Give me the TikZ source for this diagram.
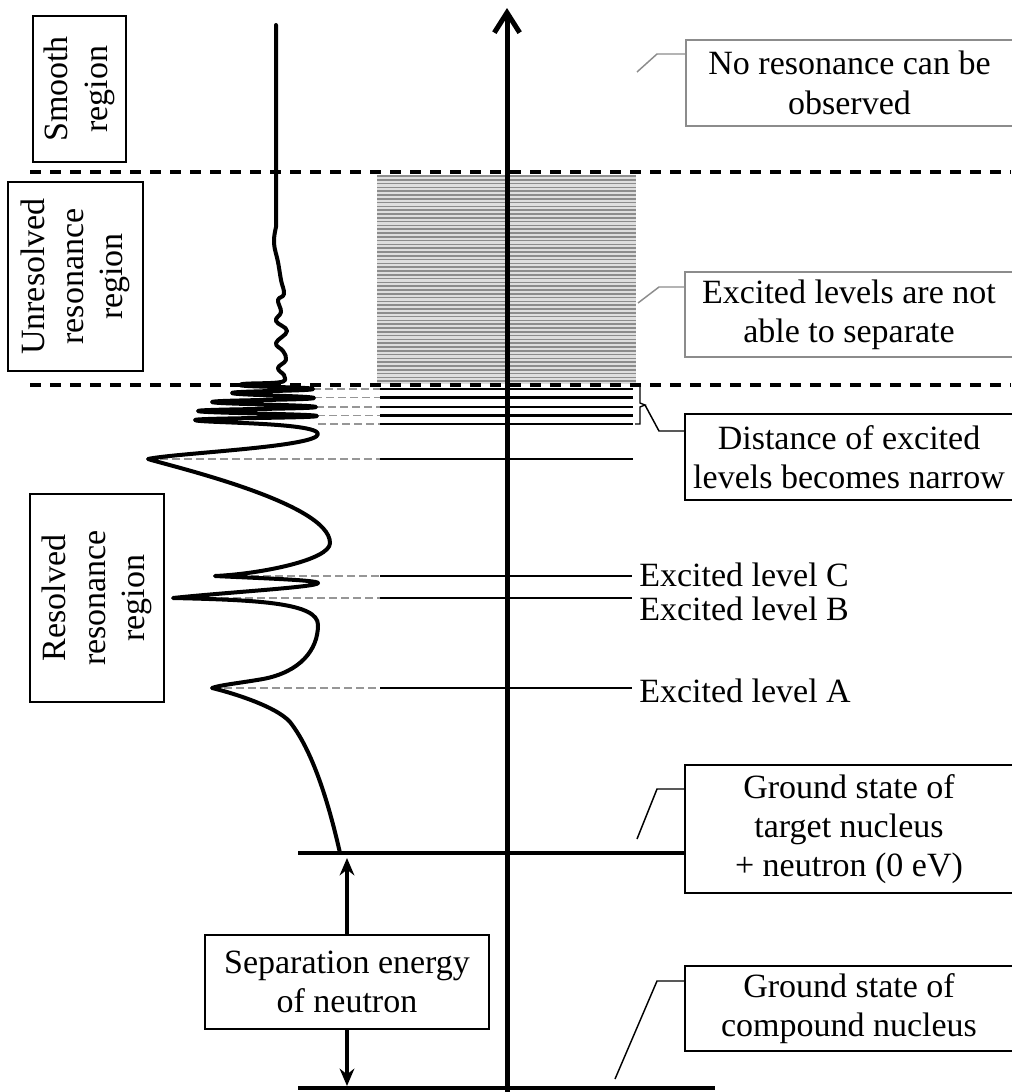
\documentclass[tikz,border=0pt]{standalone}
\usepackage{fontspec}
\setmainfont{Liberation Serif}
\usetikzlibrary{arrows.meta}
\definecolor{boxgray}{RGB}{140,140,140}
\definecolor{tiegray}{RGB}{150,150,150}
\definecolor{hatchline}{RGB}{140,140,140}
\definecolor{hatchfill}{RGB}{222,222,222}
\begin{document}
\begin{tikzpicture}[x=0.75pt,y=-0.75pt,
  txt/.style={font=\fontsize{25.5}{29.5}\selectfont, align=center, inner sep=0pt},
  framed/.style={txt, draw, line width=1.1pt, fill=white},
  softframed/.style={framed, draw=boxgray},
  regionbox/.style={framed, rotate=90},
  axisline/.style={line width=3.75pt},
  groundline/.style={line width=3.4pt},
  levelline/.style={line width=1.9pt},
  tieline/.style={tiegray, line width=1pt, dash pattern=on 6pt off 3pt},
  borderline/.style={line width=2.5pt, dash pattern=on 8.25pt off 6.75pt},
  curveline/.style={line width=3pt, line join=round, line cap=round},
  leader/.style={line width=1.1pt},
]
\useasboundingbox (0,0) rectangle (1011,1092);

% band of unresolved levels
\fill[hatchfill] (377,175) rectangle (636,384);
\foreach \k in {0,...,54}
  \draw[hatchline, line width=1.1pt] (377,176+3.8*\k) -- (636,176+3.8*\k);

% dashed ties from the cross-section peaks to the levels
\foreach \x/\y in {313/389, 314/397.7, 316/407, 317/415.7, 318/424, 148/459, 215/576, 173/598, 212/688}
  \draw[tieline] (\x,\y) -- (380,\y);

% discrete levels
\foreach \y in {389,397.7,407,415.7,424,459}
  \draw[levelline] (380,\y) -- (633,\y);

% region borders
\draw[borderline] (30,172) -- (1011,172);
\draw[borderline] (30,385) -- (1011,385);

% energy axis
\draw[axisline, -{Straight Barb[length=15pt, width=19pt]}] (507,1092) -- (507,8);

% cross-section curve
\draw[curveline] (276,25) -- (276,227)
  -- plot[smooth, tension=0.7] coordinates {(276,227) (274,243) (278,262) (281,280) (284,294) (278,300) (281,312) (276,321) (287,331) (276,343) (283,351) (286,360) (278,368) (284,375) (285,380)}
  .. controls (285,385) and (240,382) .. (240,385)
  .. controls +(0,2) and +(0,-2) .. (313,389)
  .. controls +(0,2) and +(0,-2) .. (232,393)
  .. controls +(0,2) and +(0,-2) .. (314,398)
  .. controls +(0,2) and +(0,-2) .. (212,402)
  .. controls +(0,2) and +(0,-2) .. (316,407)
  .. controls +(0,2) and +(0,-2) .. (198,411)
  .. controls +(0,2) and +(0,-2) .. (317,416)
  .. controls +(0,2) and +(0,-2) .. (195,420)
  .. controls (195,423) and (318,422) .. (318,434)
  .. controls (318,447) and (175,453) .. (148,459)
  .. controls (170,466) and (330,503) .. (330,543)
  .. controls (330,560) and (260,574) .. (215,576)
  .. controls (255,578) and (318,580) .. (318,583)
  .. controls (318,587) and (230,592) .. (173,598)
  .. controls (260,600) and (318,603) .. (318,625)
  .. controls (318,650) and (300,672) .. (263,679)
  .. controls (240,683) and (220,685) .. (212,688)
  .. controls (225,691) and (275,705) .. (290,722)
  .. controls (312,750) and (328,800) .. (340,853);

% labelled excited levels
\node[txt, anchor=west] (lvC) at (639,575) {Excited level C};
\node[txt, anchor=west] (lvB) at (639,609) {Excited level B};
\node[txt, anchor=west] (lvA) at (639,691) {Excited level A};
\coordinate (lC) at (380,576);
\coordinate (lB) at (380,598);
\coordinate (lA) at (380,688);
\draw[levelline] (lC) -- (632,576);
\draw[levelline] (lB) -- (632,598);
\draw[levelline] (lA) -- (632,688);

% region boxes
\node[regionbox, minimum width=109.5pt, minimum height=69.75pt] (smooth) at (79.5,89) {Smooth\\region};
\node[regionbox, minimum width=141.75pt, minimum height=101.25pt] (unres) at (75.5,276.5) {Unresolved\\resonance\\region};
\node[regionbox, minimum width=156pt, minimum height=100.5pt] (res) at (97,598) {Resolved\\resonance\\region};

% note boxes
\node[softframed, minimum width=245.25pt, minimum height=64.5pt] (noreso) at (849.5,83) {No resonance can be\\observed};
\node[softframed, minimum width=246pt, minimum height=63.75pt] (nosep) at (849,314.5) {Excited levels are not\\able to separate};
\node[framed, minimum width=246pt, minimum height=64.5pt] (narrow) at (849,457) {Distance of excited\\levels becomes narrow};
\node[framed, minimum width=246pt, minimum height=96pt] (gst) at (849,829) {Ground state of\\target nucleus\\+ neutron (0 eV)};
\node[framed, minimum width=246pt, minimum height=63.75pt] (gsc) at (849,1008.5) {Ground state of\\compound nucleus};

% ground states
\coordinate (gTop) at (298,853);
\coordinate (gBot) at (298,1088);
\draw[groundline] (gTop) -- (gTop -| gst.west);
\draw[groundline] (gBot) -- (715,1088);

% separation energy
\coordinate (sTop) at (347,858);
\coordinate (sBot) at (347,1086);
\draw[line width=3pt, {Stealth[length=13pt, width=11pt]}-{Stealth[length=13pt, width=11pt]}] (sTop) -- (sBot);
\node[framed, minimum width=213pt, minimum height=70.5pt] (sep) at (347,982) {Separation energy\\of neutron};

% brace over the crowded levels
\coordinate (brTip) at (645,405);
\draw[line width=1pt] (635,386) -- (640,386) -- (640,403) -- (brTip) -- (640,407) -- (640,424) -- (635,424);

% leaders
\coordinate (k1) at (657,54);
\draw[leader, boxgray] (637,72) -- (k1) -- (k1 -| noreso.west);
\coordinate (k2) at (659,287);
\draw[leader, boxgray] (638,303) -- (k2) -- (k2 -| nosep.west);
\coordinate (k3) at (659,431);
\draw[leader] (brTip) -- (k3) -- (k3 -| narrow.west);
\coordinate (k4) at (657,789);
\draw[leader] (637,839) -- (k4) -- (k4 -| gst.west);
\coordinate (k5) at (657,981);
\draw[leader] (615,1079) -- (k5) -- (k5 -| gsc.west);
\end{tikzpicture}
\end{document}
